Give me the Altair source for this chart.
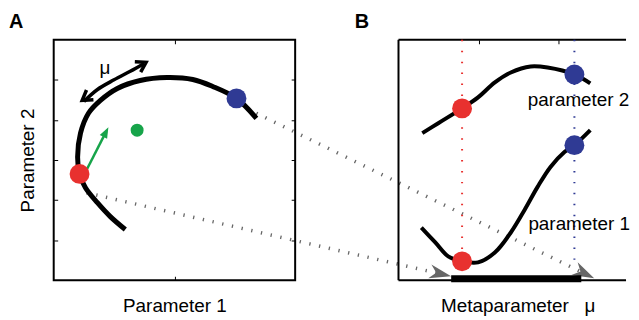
import altair as alt
import pandas as pd

FONT = "Liberation Sans"
RED = "#e8312f"
BLUE = "#2f3a94"
GREEN = "#17a44a"
GRAY = "#666666"

# ---------------- Panel A (Parameter 1 in [0,2], Parameter 2 in [0,6]) ----------------
a_curve_x = [0.593, 0.469, 0.362, 0.263, 0.214, 0.198, 0.222, 0.288, 0.387, 0.527,
             0.716, 0.938, 1.152, 1.317, 1.514, 1.679]
a_curve_y = [1.265, 1.587, 1.934, 2.306, 2.653, 3.075, 3.670, 4.166, 4.488, 4.786,
             4.984, 5.058, 5.009, 4.835, 4.538, 4.042]
a_red = (0.214, 2.653)
a_blue = (1.514, 4.538)
a_green = (0.691, 3.744)
green_arrow_x = [0.272, 0.428]
green_arrow_y = [2.752, 3.670]
green_tip = (0.453, 3.818, 297)
mu_arc_x = [0.250, 0.360, 0.500, 0.634, 0.750]
mu_arc_y = [4.460, 4.753, 5.001, 5.214, 5.410]
mu_tips_x = [0.236, 0.765]
mu_tips_y = [4.488, 5.438]
mu_tips_angle = [144.5, 330.6]
mu_label = (0.379, 5.157)
panel_label_A = ("A", -0.370, 6.285)
# connectors from panel A to panel B (in panel A units)
conn_id = ["c1", "c1", "c2", "c2"]
conn_x = [0.272, 3.180, 1.679, 4.374]
conn_y = [2.182, 0.176, 4.166, 0.201]
head_x = [3.292, 4.477]
head_y = [0.099, 0.050]
head_angle = [12.9, 26.0]

# ---------------- Panel B (metaparameter mu) ----------------
b_p2_x = [0.297, 0.496, 0.793, 0.992, 1.202, 1.401, 1.648, 1.859, 2.194, 2.392]
b_p2_y = [0.572, 0.628, 0.712, 0.774, 0.859, 0.915, 0.949, 0.943, 0.904, 0.853]
b_p1_x = [0.285, 0.459, 0.620, 0.793, 0.992, 1.202, 1.401, 1.574, 1.735, 1.896, 2.070, 2.194, 2.392]
b_p1_y = [0.038, -0.046, -0.125, -0.153, -0.159, -0.103, 0.010, 0.139, 0.268, 0.381, 0.465, 0.504, 0.589]
mu_red = 0.793
mu_blue = 2.194
b_red_y = [0.712, -0.153]
b_blue_y = [0.904, 0.504]
vline_bottom = [-0.153, -0.18]
bar_range = (0.657, 2.280)
b_labels = ["parameter 2", "parameter 1"]
b_label_x = [1.611, 1.620]
b_label_y = [0.724, 0.027]
panel_label_B = ("B", -0.545, 1.1646)

XA = [0, 2]
YA = [0, 6]
XB = [0, 2.838]
YB = [-0.26, 1.1]

xA = alt.Scale(domain=XA, nice=False, zero=False)
yA = alt.Scale(domain=YA, nice=False, zero=False)
xB = alt.Scale(domain=XB, nice=False, zero=False)
yB = alt.Scale(domain=YB, nice=False, zero=False)


def axis(orient, values, title=None, **extra):
    kw = dict(orient=orient, values=values, labels=False, domain=False, grid=False,
              ticks=True, tickSize=4, offset=-4, tickColor="black", tickWidth=1)
    if title is not None:
        kw.update(title=title, titleFont=FONT, titleFontSize=19, titleFontWeight="normal",
                  titleColor="black", titlePadding=16)
    else:
        kw.update(title=None)
    kw.update(extra)
    return alt.Axis(**kw)


def df(**cols):
    return pd.DataFrame(cols)


# ---- Panel A layers ----
frameA = alt.Chart(df(x0=[XA[0]], x1=[XA[1]], y0=[YA[0]], y1=[YA[1]])).mark_rect(
    fill="transparent", stroke="black", strokeWidth=2).encode(
    x=alt.X("x0:Q", scale=xA, axis=axis("bottom", [1], "Parameter 1")),
    x2="x1:Q",
    y=alt.Y("y0:Q", scale=yA, axis=axis("left", [1, 2, 3, 4, 5], "Parameter 2")),
    y2="y1:Q")

conn = alt.Chart(df(id=conn_id, x=conn_x, y=conn_y, i=[0, 1, 0, 1])).mark_line(
    color=GRAY, strokeWidth=3.5, strokeDash=[1.3, 8.7], clip=False).encode(
    x=alt.X("x:Q", scale=xA, axis=None), y=alt.Y("y:Q", scale=yA, axis=None),
    detail="id:N", order="i:Q")

heads = alt.Chart(df(x=head_x, y=head_y, a=head_angle)).mark_point(
    shape="M0,0L-2,-0.65L-1.4,0L-2,0.65Z", filled=True, color="#666666", opacity=1,
    size=484, clip=False).encode(
    x=alt.X("x:Q", scale=xA, axis=None), y=alt.Y("y:Q", scale=yA, axis=None),
    angle=alt.Angle("a:Q", scale=None))

curveA = alt.Chart(df(x=a_curve_x, y=a_curve_y, i=list(range(len(a_curve_x))))).mark_line(
    color="black", strokeWidth=5, interpolate="catmull-rom").encode(
    x=alt.X("x:Q", scale=xA, axis=None), y=alt.Y("y:Q", scale=yA, axis=None), order="i:Q")

muArc = alt.Chart(df(x=mu_arc_x, y=mu_arc_y, i=list(range(len(mu_arc_x))))).mark_line(
    color="black", strokeWidth=3.5, interpolate="catmull-rom").encode(
    x=alt.X("x:Q", scale=xA, axis=None), y=alt.Y("y:Q", scale=yA, axis=None), order="i:Q")

muTips = alt.Chart(df(x=mu_tips_x, y=mu_tips_y, a=mu_tips_angle)).mark_point(
    shape="M-1.6,-1L0,0L-1.6,1", filled=False, color="black", opacity=1, strokeWidth=3.5,
    strokeJoin="miter", size=144).encode(
    x=alt.X("x:Q", scale=xA, axis=None), y=alt.Y("y:Q", scale=yA, axis=None),
    angle=alt.Angle("a:Q", scale=None))

textA = alt.Chart(df(x=[mu_label[0]], y=[mu_label[1]], t=["μ"])).mark_text(
    align="left", baseline="alphabetic", font=FONT, fontSize=19, color="black").encode(
    x=alt.X("x:Q", scale=xA, axis=None), y=alt.Y("y:Q", scale=yA, axis=None), text="t:N")

labelA = alt.Chart(df(x=[panel_label_A[1]], y=[panel_label_A[2]], t=[panel_label_A[0]])).mark_text(
    align="left", baseline="alphabetic", font=FONT, fontSize=20, fontWeight="bold",
    color="black", clip=False).encode(
    x=alt.X("x:Q", scale=xA, axis=None), y=alt.Y("y:Q", scale=yA, axis=None), text="t:N")

gLine = alt.Chart(df(x=green_arrow_x, y=green_arrow_y, i=[0, 1])).mark_line(
    color=GREEN, strokeWidth=2.5).encode(
    x=alt.X("x:Q", scale=xA, axis=None), y=alt.Y("y:Q", scale=yA, axis=None), order="i:Q")

gTip = alt.Chart(df(x=[green_tip[0]], y=[green_tip[1]], a=[green_tip[2]])).mark_point(
    shape="M0,0L-2,-0.75L-2,0.75Z", filled=True, color=GREEN, opacity=1, size=121).encode(
    x=alt.X("x:Q", scale=xA, axis=None), y=alt.Y("y:Q", scale=yA, axis=None),
    angle=alt.Angle("a:Q", scale=None))

gDot = alt.Chart(df(x=[a_green[0]], y=[a_green[1]])).mark_circle(
    color=GREEN, opacity=1, size=170).encode(
    x=alt.X("x:Q", scale=xA, axis=axis("top", [1])),
    y=alt.Y("y:Q", scale=yA, axis=axis("right", [1, 2, 3, 4, 5])))

dotsA = alt.Chart(df(x=[a_red[0], a_blue[0]], y=[a_red[1], a_blue[1]], c=["r", "b"])).mark_circle(
    opacity=1, size=400).encode(
    x=alt.X("x:Q", scale=xA, axis=None), y=alt.Y("y:Q", scale=yA, axis=None),
    color=alt.Color("c:N", scale=alt.Scale(domain=["r", "b"], range=[RED, BLUE]), legend=None))

panelA = alt.layer(frameA, conn, heads, curveA, muArc, muTips, textA, labelA,
                   gLine, gTip, gDot, dotsA).properties(width=243, height=242)

# ---- Panel B layers ----
frameB = alt.Chart(df(x0=[XB[0], XB[0], XB[0]], x1=[XB[1], XB[0], XB[1]],
                      y0=[YB[1], YB[0], YB[0]], y1=[YB[1], YB[1], YB[0]])).mark_rule(
    color="black", strokeWidth=2).encode(
    x=alt.X("x0:Q", scale=xB, axis=axis("bottom", [1, 2], "Metaparameter \u00a0\u00a0μ",
                                        titleX=120, titleAlign="center")),
    x2="x1:Q",
    y=alt.Y("y0:Q", scale=yB, axis=axis("left", [0, 0.25, 0.5, 0.75, 1])),
    y2="y1:Q")

vlines = alt.Chart(df(x=[mu_red, mu_blue], y0=[YB[1], YB[1]], y1=vline_bottom, c=["r", "b"])).mark_rule(
    strokeWidth=2, strokeDash=[1.5, 9.5]).encode(
    x=alt.X("x:Q", scale=xB, axis=None), y=alt.Y("y0:Q", scale=yB, axis=None), y2="y1:Q",
    color=alt.Color("c:N", scale=alt.Scale(domain=["r", "b"], range=[RED, BLUE]), legend=None))

bar = alt.Chart(df(x0=[bar_range[0]], x1=[bar_range[1]], y0=[-0.272], y1=[-0.232])).mark_rect(
    color="black").encode(
    x=alt.X("x0:Q", scale=xB, axis=None), x2="x1:Q",
    y=alt.Y("y0:Q", scale=yB, axis=None), y2="y1:Q")

curvesB = alt.Chart(pd.concat([
    df(x=b_p2_x, y=b_p2_y, s="p2", i=list(range(len(b_p2_x)))),
    df(x=b_p1_x, y=b_p1_y, s="p1", i=list(range(len(b_p1_x))))])).mark_line(
    color="black", strokeWidth=4, interpolate="catmull-rom").encode(
    x=alt.X("x:Q", scale=xB, axis=None), y=alt.Y("y:Q", scale=yB, axis=None),
    detail="s:N", order="i:Q")

dotsB = alt.Chart(df(x=[mu_red, mu_red, mu_blue, mu_blue],
                     y=[b_red_y[0], b_red_y[1], b_blue_y[0], b_blue_y[1]],
                     c=["r", "r", "b", "b"])).mark_circle(opacity=1, size=400).encode(
    x=alt.X("x:Q", scale=xB, axis=None), y=alt.Y("y:Q", scale=yB, axis=None),
    color=alt.Color("c:N", scale=alt.Scale(domain=["r", "b"], range=[RED, BLUE]), legend=None))

labelsB = alt.Chart(df(x=b_label_x, y=b_label_y, t=b_labels)).mark_text(
    align="left", baseline="alphabetic", font=FONT, fontSize=19, color="black").encode(
    x=alt.X("x:Q", scale=xB, axis=axis("top", [1, 2])),
    y=alt.Y("y:Q", scale=yB, axis=None), text="t:N")

labelB = alt.Chart(df(x=[panel_label_B[1]], y=[panel_label_B[2]], t=[panel_label_B[0]])).mark_text(
    align="left", baseline="alphabetic", font=FONT, fontSize=20, fontWeight="bold",
    color="black", clip=False).encode(
    x=alt.X("x:Q", scale=xB, axis=None), y=alt.Y("y:Q", scale=yB, axis=None), text="t:N")

panelB = alt.layer(frameB, vlines, bar, curvesB, dotsB, labelsB, labelB).properties(
    width=229, height=242)

chart = alt.hconcat(panelA, panelB, spacing=104, bounds="flush").properties(
    padding={"left": 0, "top": 3, "right": 0, "bottom": 0}
).configure_view(stroke="transparent")

chart.save("out.html", embed_options={"renderer": "svg", "actions": False})
